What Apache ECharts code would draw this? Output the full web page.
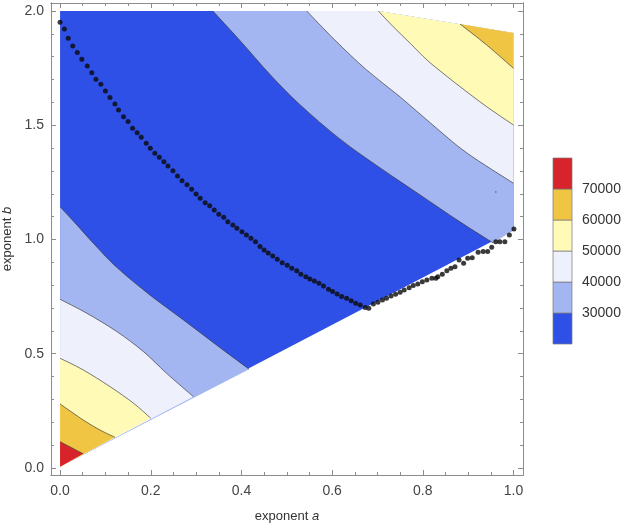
<!DOCTYPE html>
<html>
<head>
<meta charset="utf-8">
<script src="https://cdn.jsdelivr.net/npm/echarts@6/dist/echarts.min.js"></script>
<style>
html,body{margin:0;padding:0;background:#fff;}
#chart{width:625px;height:526px;}
</style>
</head>
<body>
<div id="chart"></div>
<script>
// ---- axis ticks ----
const xMajor = [0, 0.2, 0.4, 0.6, 0.8, 1.0];
const xMinor = [0,0.05,0.1,0.15,0.2,0.25,0.3,0.35,0.4,0.45,0.5,0.55,0.6,0.65,0.7,0.75,0.8,0.85,0.9,0.95,1.0];
const yMajor = [0, 0.5, 1.0, 1.5, 2.0];
const yMinor = [0,0.1,0.2,0.3,0.4,0.5,0.6,0.7,0.8,0.9,1.0,1.1,1.2,1.3,1.4,1.5,1.6,1.7,1.8,1.9,2.0];

// ---- domain boundary (a, b) ----
const diagStart = [0, 0.005];
const diagEnd = [1, 1.04];
const rightTop = [1, 1.904];
const topCorner = [0.702, 2.0];
const topLeft = [0, 2.0];

// ---- contour lines (a, b) ----
const lowC70 = [[0,0.115],[0.051,0.062]];
const lowC60 = [[0,0.280],[0.051,0.210],[0.088,0.166],[0.121,0.134]];
const lowC50 = [[0,0.480],[0.051,0.429],[0.110,0.356],[0.162,0.283],[0.200,0.2175]];
const lowC40 = [[0,0.738],[0.059,0.677],[0.125,0.597],[0.184,0.509],[0.235,0.414],[0.294,0.312]];
const lowC30 = [[0,1.143],[0.035,1.068],[0.075,0.980],[0.125,0.878],[0.198,0.757],[0.272,0.648],[0.345,0.538],[0.417,0.432]];
const upC30 = [[0.337,2.0],[0.397,1.870],[0.463,1.722],[0.529,1.590],[0.617,1.440],[0.706,1.313],[0.794,1.195],[0.882,1.077],[0.955,0.985]];
const upC40 = [[0.544,2.0],[0.606,1.873],[0.676,1.742],[0.750,1.624],[0.822,1.501],[0.897,1.379],[1.0,1.246]];
const upC50 = [[0.702,2.0],[0.735,1.931],[0.772,1.859],[0.809,1.786],[0.845,1.727],[0.882,1.669],[0.941,1.581],[1.0,1.501]];
const upC60 = [[0.882,1.943],[0.941,1.851],[1.0,1.749]];

// ---- optimum dots (a, b) ----
const dotsBranch1 = [[0.000,1.951],[0.0095,1.921],[0.018,1.881],[0.028,1.847],[0.038,1.818],[0.048,1.789],[0.060,1.759],[0.070,1.730],[0.079,1.701],[0.090,1.679],[0.100,1.650],[0.110,1.621],[0.121,1.593],[0.129,1.567],[0.140,1.537],[0.150,1.516],[0.160,1.487],[0.170,1.467],[0.179,1.447],[0.190,1.421],[0.199,1.399],[0.209,1.377],[0.219,1.360],[0.229,1.340],[0.238,1.322],[0.249,1.301],[0.259,1.278],[0.269,1.257],[0.280,1.239],[0.290,1.220],[0.300,1.199],[0.309,1.180],[0.320,1.161],[0.330,1.147],[0.340,1.129],[0.350,1.110],[0.361,1.097],[0.370,1.078],[0.381,1.063],[0.390,1.049],[0.401,1.034],[0.411,1.020],[0.421,1.005],[0.431,0.990],[0.441,0.969],[0.450,0.954],[0.459,0.941],[0.469,0.928],[0.479,0.913],[0.490,0.898],[0.501,0.887],[0.511,0.874],[0.522,0.863],[0.531,0.848],[0.542,0.837],[0.551,0.827],[0.561,0.818],[0.571,0.808],[0.581,0.796],[0.592,0.782],[0.601,0.772],[0.611,0.761],[0.621,0.750],[0.632,0.743],[0.642,0.732],[0.652,0.721],[0.662,0.713],[0.673,0.702],[0.681,0.699]];
const dotsBranch2 = [[0.691,0.718],[0.701,0.725],[0.711,0.735],[0.720,0.743],[0.730,0.753],[0.740,0.760],[0.750,0.769],[0.759,0.779],[0.770,0.789],[0.779,0.798],[0.789,0.805],[0.799,0.815],[0.809,0.823],[0.820,0.830],[0.829,0.830],[0.833,0.837],[0.843,0.848],[0.853,0.863],[0.862,0.874],[0.871,0.881],[0.880,0.910],[0.890,0.896],[0.899,0.918],[0.909,0.920],[0.922,0.944],[0.933,0.947],[0.943,0.947],[0.952,0.966],[0.961,0.990],[0.970,0.990],[0.981,0.990],[0.991,1.020],[1.001,1.046]];
const strayDot = [[0.961,1.208]];

// ---- legend bands ----
const bandLow = [20000,30000,40000,50000,60000,70000];
const bandHigh = [30000,40000,50000,60000,70000,80000];
const legendTicks = [30000,40000,50000,60000,70000];

// ---- colours ----
const C_BLUE = '#2f50e6', C_LBLUE = '#a3b6f2', C_PALE = '#eef0fb', C_YEL = '#fffab5', C_ORA = '#f0c544', C_RED = '#d7232b';
const bandColors = [C_BLUE, C_LBLUE, C_PALE, C_YEL, C_ORA, C_RED];

// filled regions: a smooth contour curve followed by straight boundary points
const regions = [
  {curve: [], rest: [diagStart, diagEnd, rightTop, topCorner, topLeft], color: C_BLUE},
  {curve: lowC30, rest: [diagStart], color: C_LBLUE},
  {curve: lowC40, rest: [diagStart], color: C_PALE},
  {curve: lowC50, rest: [diagStart], color: C_YEL},
  {curve: lowC60, rest: [diagStart], color: C_ORA},
  {curve: lowC70, rest: [diagStart], color: C_RED},
  {curve: upC30, rest: [diagEnd, rightTop, topCorner], color: C_LBLUE},
  {curve: upC40, rest: [rightTop, topCorner], color: C_PALE},
  {curve: upC50, rest: [rightTop], color: C_YEL},
  {curve: upC60, rest: [rightTop], color: C_ORA}
];
const contourLines = [lowC70, lowC60, lowC50, lowC40, lowC30, upC30, upC40, upC50, upC60];

const X_MIN = -0.02, X_MAX = 1.021, Y_MIN = -0.031, Y_MAX = 2.035;
const FONT = "'Liberation Sans', Arial, sans-serif";
const FRAME = '#8c8c8c';

function f(n) { return n.toFixed(2); }
// Catmull-Rom spline through pixel points (rendering only)
function curvePath(P, start) {
  if (!P.length) return '';
  let d = (start ? 'M' : 'L') + f(P[0][0]) + ',' + f(P[0][1]);
  for (let i = 0; i < P.length - 1; i++) {
    const p0 = P[Math.max(i - 1, 0)], p1 = P[i], p2 = P[i + 1], p3 = P[Math.min(i + 2, P.length - 1)];
    const c1 = [p1[0] + (p2[0] - p0[0]) / 6, p1[1] + (p2[1] - p0[1]) / 6];
    const c2 = [p2[0] - (p3[0] - p1[0]) / 6, p2[1] - (p3[1] - p1[1]) / 6];
    d += 'C' + f(c1[0]) + ',' + f(c1[1]) + ' ' + f(c2[0]) + ',' + f(c2[1]) + ' ' + f(p2[0]) + ',' + f(p2[1]);
  }
  return d;
}

function xAxisDef(pos, ticks, len, labels) {
  return {
    type: 'value', gridIndex: 0, position: pos, min: X_MIN, max: X_MAX,
    axisLine: {show: true, onZero: false, lineStyle: {color: FRAME, width: 1}},
    axisTick: {show: true, inside: true, length: len, customValues: ticks, lineStyle: {color: FRAME}},
    axisLabel: labels ? {show: true, customValues: xMajor, margin: 9, fontSize: 14, color: '#444', fontFamily: FONT,
      formatter: v => Number(v).toFixed(1)} : {show: false},
    splitLine: {show: false}
  };
}
function yAxisDef(pos, ticks, len, labels) {
  return {
    type: 'value', gridIndex: 0, position: pos, min: Y_MIN, max: Y_MAX,
    axisLine: {show: true, onZero: false, lineStyle: {color: FRAME, width: 1}},
    axisTick: {show: true, inside: true, length: len, customValues: ticks, lineStyle: {color: FRAME}},
    axisLabel: labels ? {show: true, customValues: yMajor, margin: 7, fontSize: 14, color: '#444', fontFamily: FONT,
      formatter: v => Number(v).toFixed(1)} : {show: false},
    splitLine: {show: false}
  };
}

const nameStyle = {fontSize: 13, color: '#333', fontFamily: FONT,
  rich: {n: {fontSize: 13, color: '#333', fontFamily: FONT}, i: {fontSize: 13, color: '#333', fontStyle: 'italic', fontFamily: FONT}}};
const xAxes = [
  xAxisDef('bottom', xMajor, 5, true),
  xAxisDef('bottom', xMinor, 3, false),
  xAxisDef('top', xMajor, 5, false),
  xAxisDef('top', xMinor, 3, false)
];
Object.assign(xAxes[0], {name: '{n|exponent }{i|a}', nameLocation: 'middle', nameGap: 35, nameTextStyle: nameStyle});
const yAxes = [
  yAxisDef('left', yMajor, 5, true),
  yAxisDef('left', yMinor, 3, false),
  yAxisDef('right', yMajor, 5, false),
  yAxisDef('right', yMinor, 3, false)
];
Object.assign(yAxes[0], {name: '{n|exponent }{i|b}', nameLocation: 'middle', nameGap: 37, nameTextStyle: nameStyle});

// legend axes
xAxes.push({type: 'value', gridIndex: 1, min: 0, max: 1, show: false});
yAxes.push({
  type: 'value', gridIndex: 1, position: 'right', min: 20000, max: 80000,
  axisLine: {show: false},
  axisTick: {show: true, inside: false, length: 5, customValues: legendTicks, lineStyle: {color: '#999'}},
  axisLabel: {show: true, customValues: legendTicks, margin: 10, fontSize: 14, color: '#333', fontFamily: FONT,
    formatter: v => String(v)},
  splitLine: {show: false}
});

const series = [];
// filled contour bands
series.push({
  type: 'custom', xAxisIndex: 0, yAxisIndex: 0, z: 1, silent: true,
  data: regions.map((r, i) => [(r.curve[0] || r.rest[0])[0], (r.curve[0] || r.rest[0])[1], i]),
  encode: {x: 0, y: 1},
  renderItem: function (params, api) {
    const r = regions[api.value(2)];
    const cp = r.curve.map(q => api.coord(q));
    const rp = r.rest.map(q => api.coord(q));
    let d = curvePath(cp, true);
    rp.forEach((p, k) => { d += ((d === '' && k === 0) ? 'M' : 'L') + f(p[0]) + ',' + f(p[1]); });
    d += 'Z';
    return {type: 'path', shape: {pathData: d}, style: {fill: r.color, stroke: null}};
  }
});
// contour lines
series.push({
  type: 'custom', xAxisIndex: 0, yAxisIndex: 0, z: 2, silent: true,
  data: contourLines.map((c, i) => [c[0][0], c[0][1], i]),
  encode: {x: 0, y: 1},
  renderItem: function (params, api) {
    const c = contourLines[api.value(2)].map(q => api.coord(q));
    return {type: 'path', shape: {pathData: curvePath(c, true)},
      style: {fill: null, stroke: 'rgba(50,50,50,0.65)', lineWidth: 1}};
  }
});
series.push({type: 'scatter', xAxisIndex: 0, yAxisIndex: 0, z: 3, data: dotsBranch1, symbolSize: 5,
  itemStyle: {color: '#0a0a0a'}});
series.push({type: 'scatter', xAxisIndex: 0, yAxisIndex: 0, z: 3, data: dotsBranch2, symbolSize: 5,
  itemStyle: {color: '#0a0a0a'}});
series.push({type: 'scatter', xAxisIndex: 0, yAxisIndex: 0, z: 3, data: strayDot, symbolSize: 1.8,
  itemStyle: {color: '#666'}});
// legend colour bar
series.push({
  type: 'custom', xAxisIndex: 4, yAxisIndex: 4, z: 2, silent: true,
  data: bandLow.map((lo, i) => [0, lo, bandHigh[i], i]),
  encode: {x: 0, y: [1, 2]},
  renderItem: function (params, api) {
    const tl = api.coord([0, api.value(2)]);
    const br = api.coord([1, api.value(1)]);
    return {type: 'rect', shape: {x: tl[0], y: tl[1], width: br[0] - tl[0], height: br[1] - tl[1]},
      style: {fill: bandColors[api.value(3)], stroke: 'rgba(120,120,120,0.7)', lineWidth: 1}};
  }
});

const chart = echarts.init(document.getElementById('chart'), null, {renderer: 'canvas'});
chart.setOption({
  animation: false,
  backgroundColor: '#fff',
  grid: [
    {left: 51, top: 3, width: 472, height: 472, outerBoundsMode: 'none', containLabel: false},
    {left: 553, top: 158, width: 19, height: 186, outerBoundsMode: 'none', containLabel: false}
  ],
  xAxis: xAxes,
  yAxis: yAxes,
  series: series
});
</script>
</body>
</html>
